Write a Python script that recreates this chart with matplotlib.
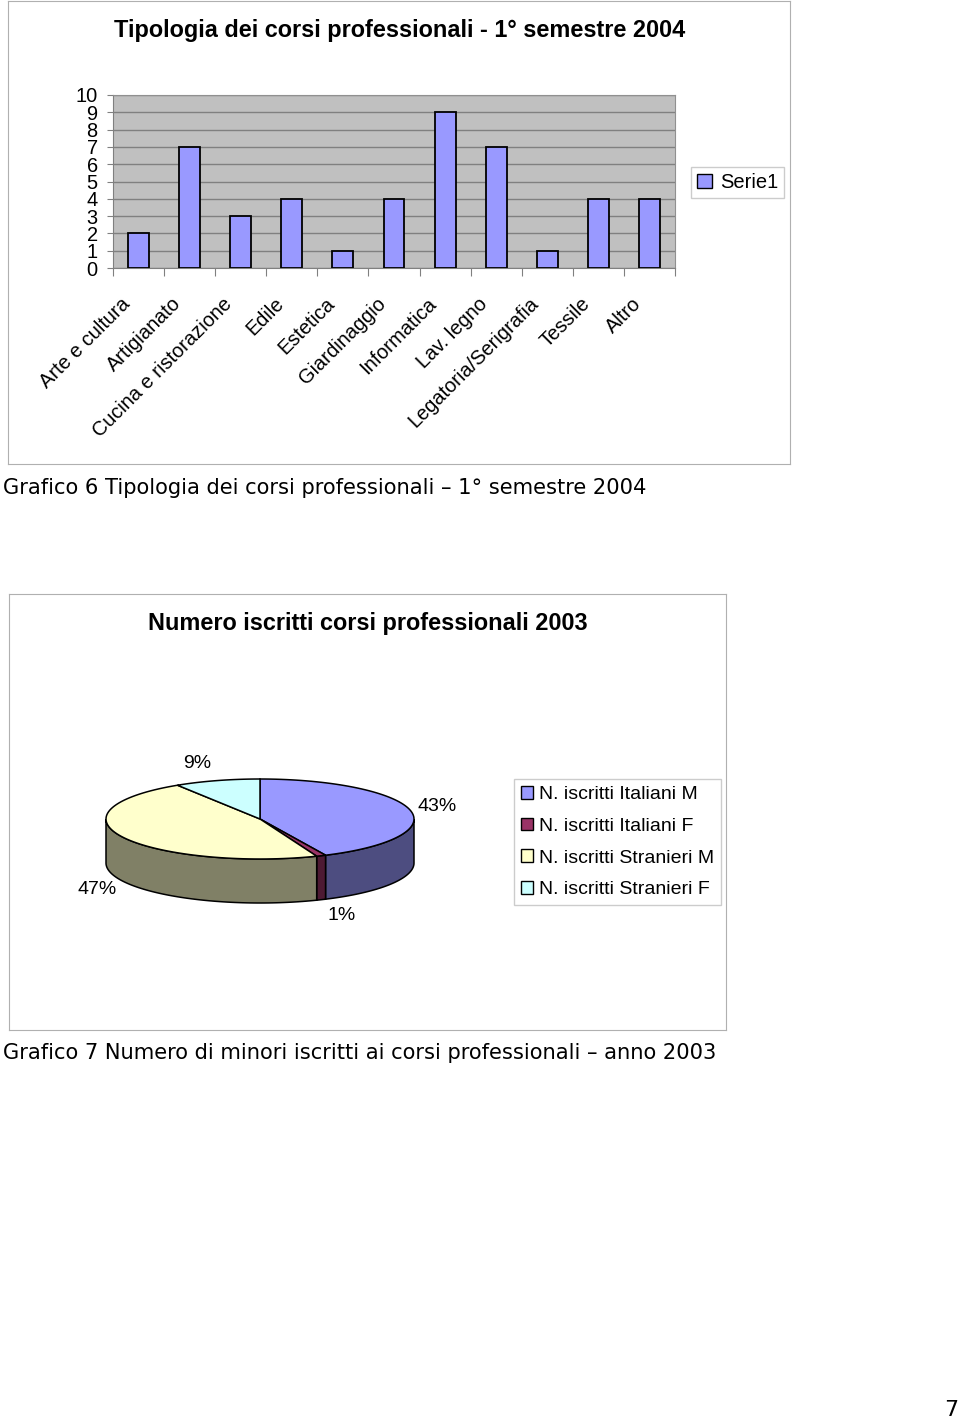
import numpy as np
import matplotlib
matplotlib.use("Agg")
import matplotlib.pyplot as plt
from matplotlib.patches import Patch, Polygon
from matplotlib.transforms import ScaledTranslation

# Grafico 6 - corsi per tipologia
categorie = ["Arte e cultura", "Artigianato", "Cucina e ristorazione", "Edile",
             "Estetica", "Giardinaggio", "Informatica", "Lav. legno",
             "Legatoria/Serigrafia", "Tessile", "Altro"]
corsi = [2, 7, 3, 4, 1, 4, 9, 7, 1, 4, 4]
y_ticks = list(range(0, 11))

# Grafico 7 - iscritti 2003
voci = ["N. iscritti Italiani M", "N. iscritti Italiani F",
        "N. iscritti Stranieri M", "N. iscritti Stranieri F"]
quote = [43, 1, 47, 9]
colori_top = ["#9999ff", "#993366", "#ffffcc", "#ccffff"]
colori_lato = ["#4d4d80", "#4d1a33", "#808066", "#668080"]

W, H = 960, 1421
fig = plt.figure(figsize=(W / 100, H / 100), dpi=100)
fig.patch.set_facecolor("white")

def px(x0, y0, x1, y1):
    return [x0 / W, 1 - y1 / H, (x1 - x0) / W, (y1 - y0) / H]

ARIAL = "Liberation Sans"
TAHOMA = "DejaVu Sans"
FRAME = "#b0b0b0"

# ---- chart 1 frame ----
f1 = fig.add_axes(px(8, 1, 790, 464))
f1.set_xticks([]); f1.set_yticks([])
for s in f1.spines.values():
    s.set_color(FRAME)
f1.patch.set_alpha(0)
fig.text(400 / W, 1 - 31 / H, "Tipologia dei corsi professionali - 1° semestre 2004",
         ha="center", va="center", fontsize=16.9, fontweight="bold", family=ARIAL)

ax = fig.add_axes(px(113, 95, 675, 268))
ax.set_facecolor("#c0c0c0")
x = np.arange(len(categorie))
ax.bar(x, corsi, width=0.41, color="#9999ff", edgecolor="black", linewidth=1.3, zorder=3)
ax.set_xlim(-0.5, len(categorie) - 0.5)
ax.set_ylim(0, 10)
ax.set_yticks(y_ticks)
ax.set_yticklabels([str(v) for v in y_ticks], family=ARIAL, fontsize=14.4)
ax.yaxis.grid(True, color="#808080", linewidth=1, zorder=1)
ax.tick_params(axis="y", length=4, pad=7, color="#808080")
ax.set_xticks(np.arange(len(categorie) + 1) - 0.5)
ax.set_xticklabels([])
ax.tick_params(axis="x", length=6, color="#808080")
for side in ["top", "right"]:
    ax.spines[side].set_color("#909090")
for side in ["left", "bottom"]:
    ax.spines[side].set_color("#808080")

off = ax.get_xaxis_transform() + ScaledTranslation(-0.18, -0.26, fig.dpi_scale_trans)
for i, c in enumerate(categorie):
    ax.text(i, 0, c, transform=off, rotation=45, rotation_mode="anchor",
            ha="right", va="top", fontsize=14.4, family=ARIAL)

fig.legend(handles=[Patch(facecolor="#9999ff", edgecolor="black")], labels=["Serie1"],
           loc="center", bbox_to_anchor=((691 + 784) / 2 / W, 1 - 182.5 / H),
           prop={"family": ARIAL, "size": 14.5}, fancybox=False, edgecolor="#c0c0c0",
           handlelength=0.75, handleheight=0.75, handletextpad=0.4, borderpad=0.3)

fig.text(3 / W, 1 - 488 / H, "Grafico 6 Tipologia dei corsi professionali – 1° semestre 2004",
         ha="left", va="center", fontsize=15.1, family=TAHOMA)

# ---- chart 2: 3D pie ----
pax = fig.add_axes(px(9, 594, 726, 1030))
pax.set_xlim(9, 726)
pax.set_ylim(1030, 594)
pax.set_xticks([]); pax.set_yticks([])
for s in pax.spines.values():
    s.set_color(FRAME)
pax.text(368, 624, "Numero iscritti corsi professionali 2003", ha="center", va="center",
         fontsize=16.9, fontweight="bold", family=ARIAL)

cx, cy, rx, ry, depth = 260, 819, 154, 40, 44
tot = sum(quote)
bordi = np.concatenate([[0], np.cumsum(quote)]) / tot * 360.0

def arc(a0, a1, n=80):
    t = np.radians(np.linspace(a0, a1, n))
    return cx + rx * np.sin(t), cy - ry * np.cos(t)

# outer walls (front half only)
for i in range(len(quote)):
    a0, a1 = max(bordi[i], 90), min(bordi[i + 1], 270)
    if a1 <= a0:
        continue
    xs, ys = arc(a0, a1)
    pts = np.column_stack([np.concatenate([xs, xs[::-1]]),
                           np.concatenate([ys, ys[::-1] + depth])])
    pax.add_patch(Polygon(pts, closed=True, facecolor=colori_lato[i],
                          edgecolor="black", linewidth=1.1, zorder=2))

# top faces
for i in range(len(quote)):
    xs, ys = arc(bordi[i], bordi[i + 1])
    pts = np.column_stack([np.concatenate([[cx], xs]), np.concatenate([[cy], ys])])
    pax.add_patch(Polygon(pts, closed=True, facecolor=colori_top[i],
                          edgecolor="black", linewidth=1.1, zorder=3))

# percentage labels, placed just outside the rim
lw_, lh_, gap = 37, 15, 10
for i, q in enumerate(quote):
    m = np.radians((bordi[i] + bordi[i + 1]) / 2)
    dx, dy = np.sin(m), -np.cos(m)
    ex = cx + rx * dx
    ey = cy + ry * dy + (depth if dy > 0 else 0)
    lx = ex + np.sign(dx) * 0.45 * lw_ + dx * gap
    ly = ey + dy * (0.5 * lh_ + gap)
    pax.text(lx, ly, f"{q}%", ha="center", va="center", fontsize=14, family=ARIAL)

handles = [Patch(facecolor=c, edgecolor="black") for c in colori_top]
fig.legend(handles=handles, labels=voci, loc="upper left",
           bbox_to_anchor=(514 / W, 1 - 779 / H),
           prop={"family": ARIAL, "size": 14.0}, fancybox=False, edgecolor="#c0c0c0",
           handlelength=0.65, handleheight=0.65, handletextpad=0.3, borderpad=0.35,
           labelspacing=0.74, borderaxespad=0)

fig.text(3 / W, 1 - 1053 / H,
         "Grafico 7 Numero di minori iscritti ai corsi professionali – anno 2003",
         ha="left", va="center", fontsize=15.1, family=TAHOMA)

fig.text(951 / W, 1 - 1410 / H, "7", ha="center", va="center", fontsize=16, family=TAHOMA)

fig.savefig("out.png", dpi=100)
